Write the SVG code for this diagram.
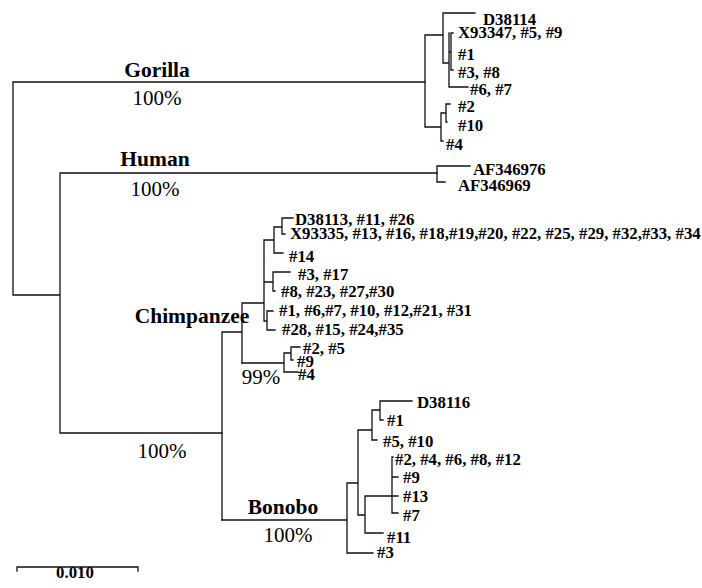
<svg xmlns="http://www.w3.org/2000/svg" width="702" height="588" viewBox="0 0 702 588">
<style>
.e{fill:none;stroke:#111;stroke-width:1.3;stroke-linecap:square}
.t{font-family:"Liberation Serif","Times New Roman",serif;font-weight:bold;font-size:16.8px;fill:#000}
.c{font-family:"Liberation Serif","Times New Roman",serif;font-weight:bold;font-size:21.5px;fill:#000}
.p{font-family:"Liberation Serif","Times New Roman",serif;font-size:21px;fill:#000}
</style>
<rect width="702" height="588" fill="#fff"/>
<g id="connectors" class="e">
<path d="M13,82V295H60M13,82H425M60,173V433H222M60,173H437"/>
<path d="M425,35V127M425,35H443M443,13V63M443,13H475M443,63H449M449,33V87M449,87H468M449,52H451M451,33V70M451,33H453M451,70H453M425,127H441M441,113V141M441,141H443M441,113H446M446,104V122M446,104H450M446,122H447"/>
<path d="M437,166V182M437,166H470M437,182H445"/>
<path d="M222,332V520M222,332H242M242,303V363M242,303H264M264,240V321M264,240H274M274,227V253M274,227H282M282,218V234M282,218H293M282,234H285M274,253H283M264,282H273M273,272V291M273,272H290M273,291H275M264,321H267M267,311V330M267,311H273M267,330H275"/>
<path d="M242,363H284M284,353V372M284,353H291M291,347V360M291,347H300M291,360H293M284,372H298"/>
<path d="M222,520H347M347,483V553M347,553H373M347,483H358M358,430V515M358,430H372M372,410V440M372,410H380M380,401V420M380,401H412M380,420H383M372,440H377M358,515H365M365,496V533M365,496H392M392,457V513M392,457H393M392,477H398M392,496H398M392,513H398M365,533H383"/>
<path d="M17,571V567H138V571"/>
</g>
<g id="gorilla-label"><text class="c" x="157" y="77" text-anchor="middle">Gorilla</text><text class="p" x="157" y="105" text-anchor="middle">100%</text></g>
<g id="human-label"><text class="c" x="155" y="166" text-anchor="middle">Human</text><text class="p" x="155" y="196" text-anchor="middle">100%</text></g>
<g id="chimp-label"><text class="c" x="192" y="323" text-anchor="middle">Chimpanzee</text><text class="p" x="162" y="458" text-anchor="middle">100%</text><text class="p" x="261" y="384" text-anchor="middle">99%</text></g>
<g id="bonobo-label"><text class="c" x="283" y="514" text-anchor="middle">Bonobo</text><text class="p" x="288" y="542" text-anchor="middle">100%</text></g>
<g id="gorilla-tips">
<text class="t" x="483" y="25">D38114</text>
<text class="t" x="458" y="38">X93347, #5, #9</text>
<text class="t" x="458" y="60">#1</text>
<text class="t" x="458" y="78">#3, #8</text>
<text class="t" x="470" y="95">#6, #7</text>
<text class="t" x="458" y="112">#2</text>
<text class="t" x="458" y="131">#10</text>
<text class="t" x="446" y="150">#4</text>
</g>
<g id="human-tips">
<text class="t" x="473" y="175">AF346976</text>
<text class="t" x="458" y="191">AF346969</text>
</g>
<g id="chimp-tips">
<text class="t" x="295" y="225">D38113, #11, #26</text>
<text class="t" x="290" y="239">X93335, #13, #16, #18,#19,#20, #22, #25, #29, #32,#33, #34</text>
<text class="t" x="289" y="262">#14</text>
<text class="t" x="298" y="280">#3, #17</text>
<text class="t" x="281" y="297">#8, #23, #27,#30</text>
<text class="t" x="279" y="316">#1, #6,#7, #10, #12,#21, #31</text>
<text class="t" x="282" y="335">#28, #15, #24,#35</text>
<text class="t" x="303" y="354">#2, #5</text>
<text class="t" x="297" y="367">#9</text>
<text class="t" x="298" y="380">#4</text>
</g>
<g id="bonobo-tips">
<text class="t" x="417" y="408">D38116</text>
<text class="t" x="387" y="426">#1</text>
<text class="t" x="383" y="447">#5, #10</text>
<text class="t" x="395" y="465">#2, #4, #6, #8, #12</text>
<text class="t" x="403" y="483">#9</text>
<text class="t" x="403" y="502">#13</text>
<text class="t" x="403" y="521">#7</text>
<text class="t" x="387" y="543">#11</text>
<text class="t" x="377" y="558">#3</text>
</g>
<g id="scale"><text class="t" x="75" y="578" text-anchor="middle">0.010</text></g>
</svg>
